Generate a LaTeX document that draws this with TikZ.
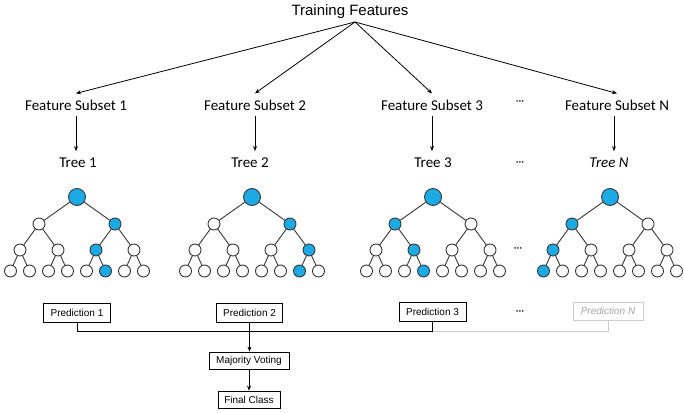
\documentclass[tikz,border=0pt]{standalone}
\usepackage{fontspec}
\setmainfont{Carlito}
\newfontfamily\arialf{Liberation Sans}
\usetikzlibrary{arrows.meta}
\definecolor{nodeblue}{RGB}{28,170,228}
\definecolor{edgegray}{RGB}{55,55,55}
\definecolor{ghosttext}{RGB}{165,165,165}
\definecolor{ghostline}{RGB}{205,205,205}
\tikzset{
  lbl/.style={font=\fontsize{15}{18}\selectfont, inner sep=6pt, anchor=base},
  dotsn/.style={font=\fontsize{11}{12}\selectfont, inner sep=0pt},
  arr/.style={draw=black, line width=0.8pt, -{Stealth[length=5pt,width=4pt]}},
  leaf/.style={circle, draw=edgegray, line width=0.9pt, fill=white, minimum size=12pt, inner sep=0pt},
  rootn/.style={leaf, minimum size=17pt},
  hl/.style={fill=nodeblue},
  tedge/.style={draw=edgegray, line width=0.9pt},
  pbox/.style={draw=black, line width=0.8pt, font=\arialf\fontsize{10}{12}\selectfont, minimum height=19pt, inner sep=0pt},
  bus/.style={draw=black, line width=0.8pt},
  ghostbus/.style={draw=ghostline, line width=0.8pt},
}
\newcommand\mytree[5]{%
  \node[rootn,hl] (#1r) at (#2,197) {};
  \foreach \i in {0,1}{%
    \ifnum\i=#3 \tikzset{cur/.style={hl}}\else\tikzset{cur/.style={}}\fi
    \node[leaf,cur] (#1a\i) at ({#2-38+76*\i},224) {};
  }
  \foreach \i in {0,...,3}{%
    \ifnum\i=#4 \tikzset{cur/.style={hl}}\else\tikzset{cur/.style={}}\fi
    \node[leaf,cur] (#1b\i) at ({#2-57+38*\i},250) {};
  }
  \foreach \i in {0,...,7}{%
    \ifnum\i=#5 \tikzset{cur/.style={hl}}\else\tikzset{cur/.style={}}\fi
    \node[leaf,cur] (#1c\i) at ({#2-66.5+19*\i},271) {};
  }
  \foreach \i in {0,1}{\draw[tedge] (#1r) -- (#1a\i);}
  \foreach \i [evaluate=\i as \j using int(2*\i), evaluate=\i as \k using int(2*\i+1)] in {0,1}{%
    \draw[tedge] (#1a\i) -- (#1b\j);
    \draw[tedge] (#1a\i) -- (#1b\k);
  }
  \foreach \i [evaluate=\i as \j using int(2*\i), evaluate=\i as \k using int(2*\i+1)] in {0,...,3}{%
    \draw[tedge] (#1b\i) -- (#1c\j);
    \draw[tedge] (#1b\i) -- (#1c\k);
  }
}
\begin{document}
\begin{tikzpicture}[x=1pt,y=-1pt]
\useasboundingbox (0,0) rectangle (684,412);

% top
\node[font=\arialf\fontsize{15}{18}\selectfont, inner sep=0pt, anchor=base] (tf) at (350,16) {Training Features};
\coordinate (apex) at (355,22);

\node[lbl] (fs1) at (76,110) {Feature Subset 1};
\node[lbl] (fs2) at (255,110) {Feature Subset 2};
\node[lbl] (fs3) at (432,110) {Feature Subset 3};
\node[lbl] (fsN) at (617,110) {Feature Subset N};

\node[lbl] (tr1) at (78,167) {Tree 1};
\node[lbl] (tr2) at (250,167) {Tree 2};
\node[lbl] (tr3) at (433,167) {Tree 3};
\node[lbl] (trN) at (609,167) {\itshape Tree N};

\node[dotsn] (d1) at (520,103) {···};
\node[dotsn] (d2) at (520,164) {···};
\node[dotsn] (d3) at (518,250) {···};
\node[dotsn] (d4) at (520,313) {···};

\foreach \k in {1,2,3,N}{\draw[arr] (apex) -- (fs\k.north);}
\draw[arr] (fs1.south) -- (fs1.south |- tr1.north);
\draw[arr] (fs2.south) -- (fs2.south |- tr2.north);
\draw[arr] (fs3.south) -- (fs3.south |- tr3.north);
\draw[arr] ([xshift=-3pt]fsN.south) -- ([xshift=-3pt]fsN.south |- trN.north);

% trees
\mytree{ta}{77}{1}{2}{5}
\mytree{tb}{252}{1}{3}{6}
\mytree{tc}{433}{0}{1}{3}
\mytree{tn}{610}{0}{0}{0}

% predictions
\node[pbox, minimum width=67pt] (p1) at (77,312.5) {Prediction 1};
\node[pbox, minimum width=66pt] (p2) at (249.5,312.5) {Prediction 2};
\node[pbox, minimum width=67pt] (p3) at (432.5,312) {Prediction 3};
\node[pbox, minimum width=70pt, minimum height=18pt, draw=ghostline, text=ghosttext, font=\arialf\itshape\fontsize{10}{12}\selectfont] (pN) at (608,311) {Prediction N};

\node[pbox, minimum width=80pt, minimum height=17pt] (mv) at (249,360.5) {Majority Voting};
\node[pbox, minimum width=62pt, minimum height=17pt] (fc) at (249,399.5) {Final Class};

\draw[ghostbus] (p3.south) ++(0,9) -| (pN.south);
\draw[bus] (p1.south) -- ++(0,9) -| (p3.south);
\draw[arr] (p2.south) -- (p2.south |- mv.north);
\draw[arr] (mv.south) -- (fc.north);
\end{tikzpicture}
\end{document}
